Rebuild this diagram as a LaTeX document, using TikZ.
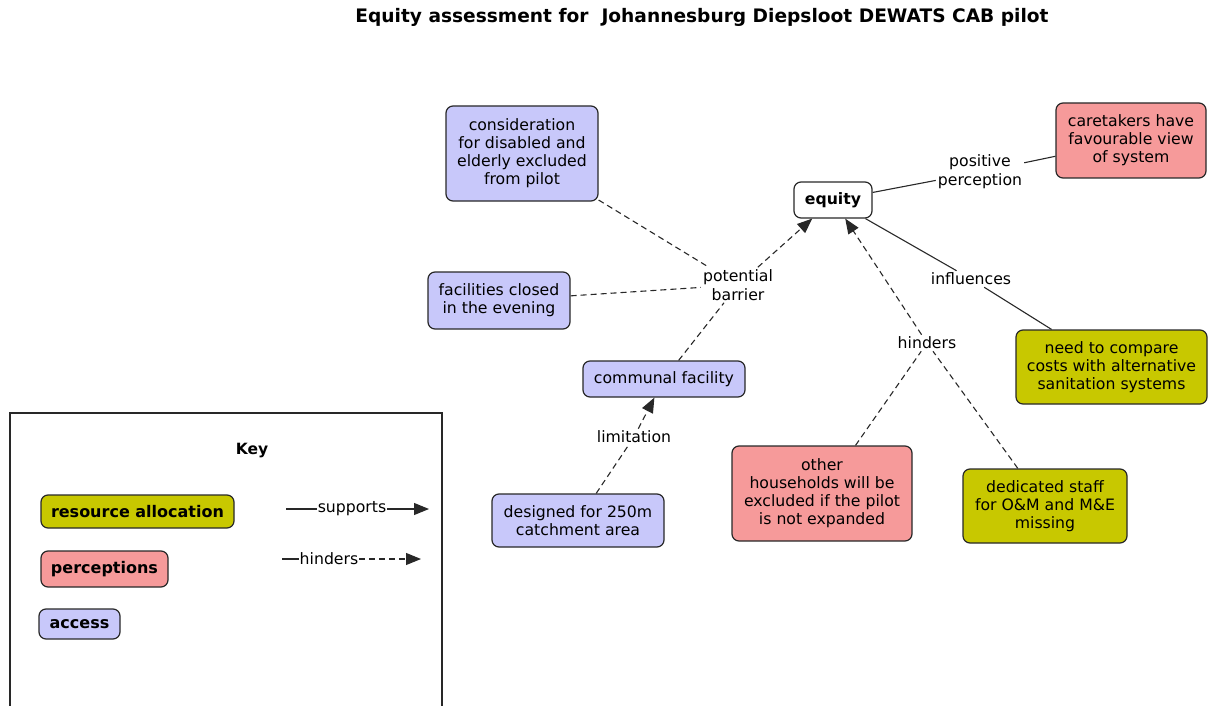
\documentclass[tikz,border=0pt]{standalone}
\usepackage{fontspec}
\setmainfont{DejaVu Sans}
\usetikzlibrary{arrows.meta}
\definecolor{accessc}{RGB}{200,200,250}
\definecolor{percc}{RGB}{246,154,154}
\definecolor{resc}{RGB}{200,200,0}
\definecolor{edgec}{RGB}{40,40,40}
\tikzset{
  concept/.style={draw=edgec, rounded corners=7pt, line width=1.2pt, align=center,
    font=\fontsize{15.7}{18}\selectfont, inner sep=0pt},
  accbox/.style={concept, fill=accessc},
  percbox/.style={concept, fill=percc},
  resbox/.style={concept, fill=resc},
  keybox/.style={concept, font=\fontsize{16}{18}\selectfont\bfseries},
  linklabel/.style={align=center, font=\fontsize{15.7}{19}\selectfont, inner sep=2pt},
  supp/.style={line width=1.1pt, draw=edgec},
  hind/.style={line width=1.1pt, draw=edgec, dash pattern=on 6pt off 4pt},
  tip/.style={-{Triangle[length=15pt,width=12pt]}}
}
\begin{document}
\begin{tikzpicture}[x=1pt,y=-1pt]
\useasboundingbox (0,0) rectangle (1208,706);

% title
\node (title) at (702,17) {\fontsize{18.6}{20}\selectfont\bfseries Equity assessment for\ \ Johannesburg Diepsloot DEWATS CAB pilot};

% concepts
\node[concept, font=\fontsize{15.7}{18}\selectfont\bfseries, fill=white, minimum width=78pt, minimum height=36pt] (equity) at (833,200) {equity};
\node[accbox, minimum width=152pt, minimum height=95pt] (cons) at (522,153.5) {consideration\\for disabled and\\elderly excluded\\from pilot};
\node[percbox, minimum width=150pt, minimum height=75pt] (care) at (1131,140.5) {caretakers have\\favourable view\\of system};
\node[accbox, minimum width=142pt, minimum height=57pt] (fac) at (499,300.5) {facilities closed\\in the evening};
\node[accbox, minimum width=162pt, minimum height=36pt] (comm) at (664,379) {communal facility};
\node[accbox, minimum width=172pt, minimum height=53pt] (des) at (578,520.5) {designed for 250m\\catchment area};
\node[percbox, minimum width=180pt, minimum height=95pt] (other) at (822,493.5) {other\\households will be\\excluded if the pilot\\is not expanded};
\node[resbox, minimum width=164pt, minimum height=74pt] (staff) at (1045,506) {dedicated staff\\for O\&M and M\&E\\missing};
\node[resbox, minimum width=191pt, minimum height=74pt] (need) at (1111.5,367) {need to compare\\costs with alternative\\sanitation systems};

% link labels
\node[linklabel] (pb) at (738,285) {potential\\barrier};
\node[linklabel] (lim) at (634,437) {limitation};
\node[linklabel] (hin) at (927,343) {hinders};
\node[linklabel] (inf) at (971,279) {influences};
\node[linklabel] (pp) at (980,172) {positive\\perception};

% links
\draw[hind] (cons) -- (pb);
\draw[hind] (fac) -- (pb);
\draw[hind] (comm) -- (pb);
\draw[hind, tip] (pb) -- (equity);
\draw[hind] (des) -- (lim);
\draw[hind, tip] (lim) -- (comm);
\draw[hind] (other) -- (hin);
\draw[hind] (staff) -- (hin);
\draw[hind, tip] (hin) -- (equity);
\draw[supp] (equity) -- (pp);
\draw[supp] (pp) -- (care);
\draw[supp] (equity) -- (inf);
\draw[supp] (inf) -- (need);

% key
\draw[line width=1.2pt, draw=edgec] (10,720) -- (10,413) -- (442,413) -- (442,720);
\node (keytitle) at (252,451) {\fontsize{15.5}{18}\selectfont\bfseries Key};
\node[keybox, fill=resc, minimum width=193pt, minimum height=33pt] (kres) at (137.5,511.5) {resource allocation};
\node[keybox, fill=percc, minimum width=127pt, minimum height=36pt] (kperc) at (104.5,569) {perceptions};
\node[keybox, fill=accessc, minimum width=81pt, minimum height=30pt] (kacc) at (79.5,624) {access};

\coordinate (ks1) at (286,509);
\coordinate (ks2) at (429,509);
\node[linklabel, inner sep=1pt] (ksup) at (352,509) {supports};
\draw[supp] (ks1) -- (ksup);
\draw[supp, tip] (ksup) -- (ks2);

\coordinate (kh1) at (282,559);
\coordinate (kh2) at (421,559);
\node[linklabel, inner sep=1pt] (khin) at (329,559) {hinders};
\draw[supp] (kh1) -- (khin);
\draw[hind, tip] (khin) -- (kh2);
\end{tikzpicture}
\end{document}
